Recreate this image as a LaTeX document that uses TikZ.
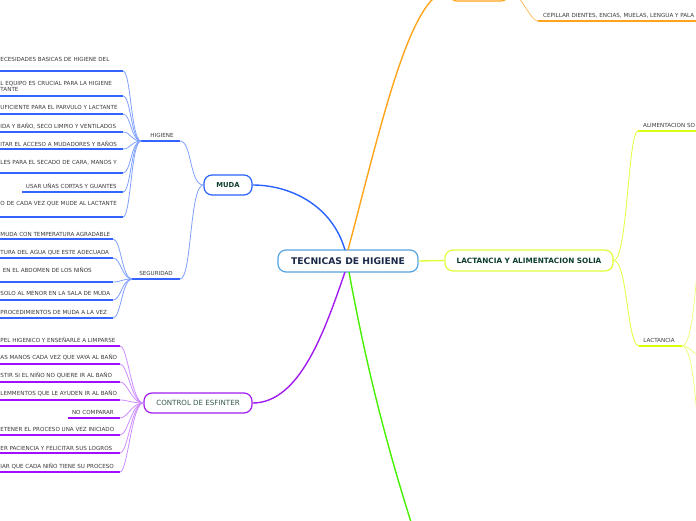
\documentclass[tikz,border=0pt]{standalone}
\usepackage{fontspec}
\setmainfont{DejaVu Sans}
\definecolor{cblue}{HTML}{55A5E2}
\definecolor{mudab}{HTML}{2962FF}
\definecolor{bleaf}{HTML}{3463FF}
\definecolor{blight}{HTML}{7FA0FF}
\definecolor{purb}{HTML}{A21CF0}
\definecolor{pleaf}{HTML}{A010FF}
\definecolor{plight}{HTML}{CC8CFF}
\definecolor{yelb}{HTML}{E0FF3A}
\definecolor{yleaf}{HTML}{D8FF10}
\definecolor{ylight}{HTML}{ECFF80}
\definecolor{orng}{HTML}{FFA41C}
\definecolor{grn}{HTML}{46F000}
\definecolor{navy}{HTML}{1B2A48}
\definecolor{dgreen}{HTML}{0D3D2D}
\definecolor{tgray}{HTML}{3A3A3A}
\definecolor{cgray}{HTML}{35574C}
\tikzset{
  mainbox/.style={draw, fill=white, rounded corners=8pt, line width=1.2pt, inner sep=0pt, align=center},
  leaf/.style={font=\fontsize{5.6}{6.7}\selectfont, text=tgray, inner sep=0pt},
  leafline/.style={line width=1.6pt},
  subconn/.style={line width=0.8pt},
  mainconn/.style={line width=1.4pt},
  hubline/.style={line width=2pt}
}
\begin{document}
\begin{tikzpicture}[x=1pt,y=-1pt]
\useasboundingbox (0,0) rectangle (696,520);

% ---------- main nodes ----------
\node[mainbox, draw=cblue, minimum width=140pt, minimum height=22pt, text=navy, font=\bfseries\fontsize{9.2}{10}\selectfont] (c) at (348,261) {TECNICAS DE HIGIENE};
\node[mainbox, draw=mudab, minimum width=48pt, minimum height=20pt, text=dgreen, font=\bfseries\fontsize{6.8}{7.5}\selectfont] (muda) at (228,185) {MUDA};
\node[mainbox, draw=purb, minimum width=108pt, minimum height=20pt, text=cgray, font=\fontsize{7.1}{8}\selectfont] (ctrl) at (198,403) {CONTROL DE ESFINTER};
\node[mainbox, draw=yelb, minimum width=168pt, minimum height=21pt, text=dgreen, font=\bfseries\fontsize{7.3}{8}\selectfont] (lact) at (529,260.5) {LACTANCIA Y ALIMENTACION SOLIA};
\node[mainbox, draw=orng, minimum width=60pt, minimum height=20pt] (onode) at (479,-9) {};

% ---------- main connectors ----------
\coordinate (cbl) at (345,250);
\coordinate (cor) at (348,250);
\coordinate (cpu) at (345,272);
\coordinate (cgr) at (349,272);
\coordinate (gend) at (411,522);
\draw[mainconn, mudab] (cbl) .. controls (332,205) and (290,185) .. (muda.east);
\draw[mainconn, purb] (cpu) .. controls (325,330) and (300,403) .. (ctrl.east);
\draw[mainconn, grn] (cgr) .. controls (365,360) and (385,440) .. (gend);
\draw[mainconn, orng] (cor) .. controls (380,130) and (410,-8) .. (onode.west);
\draw[mainconn, yelb] (c.east) -- (lact.west);

% ---------- MUDA sub-branches ----------
\coordinate (hh) at (141,141);
\coordinate (hhr) at (180,141);
\coordinate (sh) at (132,279);
\coordinate (shr) at (180,279);
\draw[hubline, bleaf] (hh) -- (hhr);
\draw[hubline, bleaf] (sh) -- (shr);
\node[leaf, anchor=base] (hlab) at (162,137.5) {HIGIENE};
\node[leaf, anchor=base] (slab) at (156,275.5) {SEGURIDAD};
\draw[subconn, blight] (muda.west) .. controls +(-14,0) and +(12,0) .. (hhr);
\draw[subconn, blight] (muda.west) .. controls +(-14,0) and +(12,0) .. (shr);

% HIGIENE leaves (anchor: w = text starts at left edge, e = right-aligned)
\foreach \t/\an/\xa/\ty/\ly/\xs [count=\i] in {
  {ECESIDADES BASICAS DE HIGIENE DEL}/base west/0.3/59/71/-5,
  {L EQUIPO ES CRUCIAL PARA LA HIGIENE}/base west/0.3/83/96/-5,
  {UFICIENTE PARA EL PARVULO Y LACTANTE}/base west/0.3/107/114/-5,
  {IDA Y BAÑO, SECO LIMPIO Y VENTILADOS}/base west/0.3/126/132/-5,
  {ITAR EL ACCESO A MUDADORES Y BAÑOS}/base west/0.3/144/149/-5,
  {LES PARA EL SECADO DE CARA, MANOS Y}/base west/0.3/162/173/-5,
  {USAR UÑAS CORTAS Y GUANTES}/base east/117/186/192/22,
  {O DE CADA VEZ QUE MUDE AL LACTANTE}/base west/0.3/203/217/-5}
{
  \node[leaf, anchor=\an] (h\i) at (\xa,\ty+2) {\t};
  \coordinate (hs\i) at (\xs,\ly);
  \coordinate (he\i) at (123,\ly);
  \draw[leafline, bleaf] (hs\i) -- (he\i);
  \draw[subconn, blight] (hh) .. controls +(-10,0) and +(8,0) .. (he\i);
}
\node[leaf, anchor=base west] (h2b) at (0.3,91) {TANTE};

% SEGURIDAD leaves
\foreach \t/\an/\xa/\ty/\ly [count=\i] in {
  {MUDA CON TEMPERATURA AGRADABLE}/base west/0.3/234/239,
  {TURA DEL AGUA QUE ESTE ADECUADA}/base west/0.3/252/258,
  {EN EL ABDOMEN DE LOS NIÑOS}/base east/92/270/282,
  {SOLO AL MENOR EN LA SALA DE MUDA}/base west/0.3/293/300,
  {PROCEDIMIENTOS DE MUDA A LA VEZ}/base west/0.3/312/318}
{
  \node[leaf, anchor=\an] (s\i) at (\xa,\ty+2) {\t};
  \coordinate (ss\i) at (-5,\ly);
  \coordinate (se\i) at (113,\ly);
  \draw[leafline, bleaf] (ss\i) -- (se\i);
  \draw[subconn, blight] (sh) .. controls +(-10,0) and +(8,0) .. (se\i);
}

% CONTROL leaves
\foreach \t/\an/\xa/\ty/\ly/\xs [count=\i] in {
  {PEL HIGENICO Y ENSEÑARLE A LIMPARSE}/base west/0.3/340/346/-5,
  {AS MANOS CADA VEZ QUE VAYA AL BAÑO}/base west/0.3/357/364/-5,
  {STIR SI EL NIÑO NO QUIERE IR AL BAÑO}/base west/0.3/375/382/-5,
  {LEMMENTOS QUE LE AYUDEN IR AL BAÑO}/base west/0.3/393/400/-5,
  {NO COMPARAR}/base east/114/412/418/68,
  {ETENER EL PROCESO UNA VEZ INICIADO}/base west/0.3/429/435/-5,
  {ER PACIENCIA Y FELICITAR SUS LOGROS}/base west/0.3/448/453/-5,
  {IAR QUE CADA NIÑO TIENE SU PROCESO}/base west/0.3/466/472/-5}
{
  \node[leaf, anchor=\an] (p\i) at (\xa,\ty+2) {\t};
  \coordinate (ps\i) at (\xs,\ly);
  \coordinate (pe\i) at (120,\ly);
  \draw[leafline, pleaf] (ps\i) -- (pe\i);
  \draw[subconn, plight] (ctrl.west) .. controls +(-12,0) and +(8,0) .. (pe\i);
}

% ---------- LACTANCIA side ----------
\coordinate (as) at (638,131);
\coordinate (ae) at (700,131);
\draw[leafline, yleaf] (as) -- (ae);
\node[leaf, anchor=base west] (alim) at (643,127) {ALIMENTACION SO};
\draw[subconn, yelb] (lact.east) .. controls +(14,0) and +(-10,0) .. (as);

\coordinate (ls) at (639,346);
\coordinate (le) at (682,346);
\draw[hubline, yleaf] (ls) -- (le);
\node[leaf, anchor=base] (lac) at (659,342) {LACTANCIA};
\draw[subconn, yelb] (lact.east) .. controls +(14,0) and +(-12,0) .. (ls);
\coordinate (l1) at (698,262);
\coordinate (l2) at (698,355);
\coordinate (l3) at (698,425);
\draw[subconn, ylight] (le) .. controls +(10,0) and +(-3,30) .. (l1);
\draw[subconn, ylight] (le) .. controls +(8,0) and +(-6,-2) .. (l2);
\draw[subconn, ylight] (le) .. controls +(10,0) and +(-3,-30) .. (l3);

% ---------- orange side ----------
\coordinate (os) at (538,21);
\coordinate (oe) at (700,21);
\draw[leafline, orng] (os) -- (oe);
\node[leaf, anchor=base west] (cep) at (543,17) {CEPILLAR DIENTES, ENCIAS, MUELAS, LENGUA Y PALA};
\draw[subconn, orng!70] (onode.east) .. controls +(10,0) and +(-8,0) .. (os);
\end{tikzpicture}
\end{document}
